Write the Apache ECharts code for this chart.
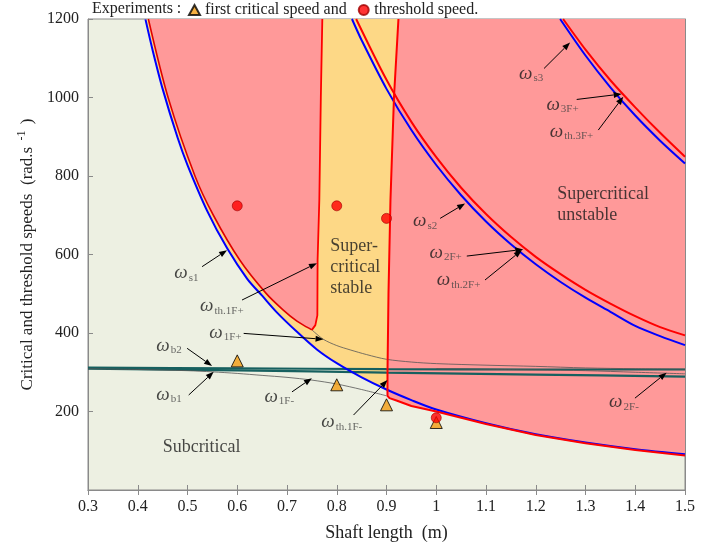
<!DOCTYPE html>
<html><head><meta charset="utf-8">
<script src="https://cdn.jsdelivr.net/npm/echarts@6/dist/echarts.min.js"></script>
<style>html,body{margin:0;padding:0;background:#fff}#c{width:724px;height:549px}</style>
</head><body><div id="c"></div>
<script>
// ---------- data ----------
// first bending critical speed ws1 (blue)
const ws1L = [0.4155,0.43,0.45,0.48,0.5,0.54,0.58,0.62,0.65,0.68,0.72,0.76,0.8,0.85,0.9,0.95,1.0,1.1,1.2,1.3,1.4,1.5];
const ws1  = [1199,1120,1022,898,828,710,615,538,495,452,403,358,323,287,256,229,205,170,142,121,104,91];
// second critical speed ws2 (blue) and w2F+ / wth.2F+ (red)
const ws2L = [0.8306,0.85,0.9,0.95,1.0,1.05,1.1,1.15,1.2,1.25,1.3,1.35,1.4,1.45,1.5];
const ws2  = [1200,1146,1022,917,828,751,684,626,575,530,490,454,418,392,369];
const w2FpL = [0.839,0.9,0.95,1.0,1.05,1.1,1.15,1.2,1.25,1.3,1.35,1.4,1.45,1.5];
const w2Fp  = [1200,1045,938,848,770,703,645,594,550,510,475,443,415,394];
// third critical speed ws3 (blue) and w3F+ (red)
const ws3L = [1.249,1.3,1.35,1.4,1.45,1.5];
const ws3  = [1200,1107,1026,954,890,832];
const w3FpL = [1.255,1.3,1.35,1.4,1.45,1.5];
const w3Fp  = [1200,1122,1044,975,910,849];
// threshold wth.1F+ (red curve, left boundary of the left unstable zone) and its vertical branch
const th1pL = [0.4213,0.461,0.515,0.552,0.605,0.658,0.692,0.72,0.74,0.75];
const th1p  = [1200,1000,800,700,586,501,459,430,415,408];
const vert1L = [0.750,0.757,0.761,0.7615,0.765,0.768,0.771];
const vert1  = [408,420,445,586,740,1000,1200];
// second vertical threshold branch and wth.1F- (red)
const vert2L = [0.924,0.915,0.908,0.904,0.902,0.902];
const vert2  = [1200,1000,740,500,300,240];
const th1mL = [0.906,0.92,0.95,1.0,1.05,1.1,1.2,1.3,1.4,1.5];
const th1m  = [234,228,214,200,184,168,140,119,102,88];
// bearing modes wb1, wb2 (teal)
const wbL = [0.3,0.6,0.9,1.2,1.5];
const wb1 = [309,305,299,294,289];
const wb2 = [312,310,308,307,307];
// whirl branches (thin)
const w1FpL = [0.75,0.773,0.8,0.827,0.86,0.9,0.95,1.0,1.1,1.2,1.3,1.4,1.5];
const w1Fp  = [408,384,368,357,345,333,326,322,318,315,311,309,308];
const w1FmL = [0.3,0.4,0.5,0.55,0.6,0.65,0.7,0.75,0.8,0.85,0.9];
const w1Fm  = [309,307,304,301,297,292,287,280,270,256,240];
const w2FmL = [1.0,1.2,1.3,1.4,1.5];
const w2Fm  = [309,306,304,300,296];
// experiments
const expL = [0.6,0.8,0.9,1.0];
const expCritical  = [329,268,217,172];
const expThreshold = [724,724,692,184];
// annotations: label subscript, text centre, arrow start, arrow end
const annSub  = ['s3','3F+','th.3F+','s2','2F+','th.2F+','s1','th.1F+','1F+','b2','b1','1F-','th.1F-','2F-'];
const annL    = [1.1906,1.2538,1.2719,0.9777,1.0189,1.045,0.4978,0.5691,0.5761,0.4627,0.4627,0.6845,0.81,1.3773];
const annV    = [1060,981,913,685,605,534,552,468,400,367,242,238,172,223];
const arrFromL = [1.2167,1.2823,1.3257,1.0078,1.0614,1.098,0.5293,0.6096,0.6129,0.4992,0.5024,0.71,0.8337,1.3994];
const arrFromV = [1074,995,917,692,596,535,569,484,399,361,242,250,191,234];
const arrToL   = [1.269,1.3727,1.376,1.058,1.175,1.172,0.5795,0.7602,0.7735,0.5494,0.5526,0.75,0.902,1.463];
const arrToV   = [1140,1009,1002,730,613,611,611,578,384,316,301,285,280,299];
// region labels
const regText = ['Super-\ncritical\nstable','Supercritical\nunstable','Subcritical'];
const regL = [0.787,1.243,0.45];
const regV = [568,726,110];
const xTicks = [0.3,1.5,0.1];
const yTicks = [0,1200,200];

// ---------- build ----------
const FONT = 'Liberation Serif';
const pairs = (xs, ys) => xs.map((x, i) => [x, ys[i]]);
const blue1 = pairs(ws1L, ws1);
const polyYellow = blue1.filter(p => p[0] <= 0.9).concat(pairs(vert2L, vert2).reverse());
const polyPinkL = pairs(th1pL, th1p).concat(pairs(vert1L, vert1));
const polyPinkR = pairs(vert2L, vert2).concat(pairs(th1mL, th1m), [[1.5, 1200]]);
const polys = [polyYellow, polyPinkL, polyPinkR];
const polyColors = ['#fdd886', '#ff9999', '#ff9999'];

function line(name, data, color, width, smooth) {
  return {type: 'line', name, data, showSymbol: false, symbol: 'none', smooth: smooth ? 0.3 : false,
    lineStyle: {color, width}, silent: true, z: 3};
}

const chart = echarts.init(document.getElementById('c'), null, {renderer: 'canvas'});
const axisCommon = {
  axisLine: {show: true, lineStyle: {color: '#8a8a8a', width: 1}},
  axisTick: {show: true, inside: true, length: 5, lineStyle: {color: '#8a8a8a'}},
  splitLine: {show: false}
};
chart.setOption({
  animation: false,
  backgroundColor: '#ffffff',
  title: {text: 'Experiments :', left: 92, top: 1, padding: 0, textStyle: {fontFamily: FONT, fontSize: 16, fontWeight: 'normal', color: '#222'}},
  legend: {
    left: 188, top: 2, padding: 0, itemGap: 11, itemWidth: 11, itemHeight: 10,
    data: ['first critical speed and', 'threshold speed.'],
    textStyle: {fontFamily: FONT, fontSize: 16, color: '#222'}
  },
  grid: {left: 88, right: 39, top: 19, bottom: 59, show: true, backgroundColor: '#edf0e2', borderColor: '#8a8a8a', borderWidth: 1},
  xAxis: [
    Object.assign({type: 'value', min: xTicks[0], max: xTicks[1], interval: xTicks[2],
      axisLabel: {fontFamily: FONT, fontSize: 16, color: '#222', margin: 9, formatter: v => String(+v.toFixed(2))},
      name: 'Shaft length  (m)', nameLocation: 'middle', nameGap: 34,
      nameTextStyle: {fontFamily: FONT, fontSize: 18, color: '#222'}}, axisCommon),
    Object.assign({type: 'value', position: 'top', min: xTicks[0], max: xTicks[1], interval: xTicks[2], axisLabel: {show: false}}, axisCommon)
  ],
  yAxis: [
    Object.assign({type: 'value', min: yTicks[0], max: yTicks[1], interval: yTicks[2],
      axisLabel: {fontFamily: FONT, fontSize: 16, color: '#222', margin: 9, formatter: v => v === 0 ? '' : String(v)},
      name: '{a|Critical and threshold speeds  (rad.s }{b|-1}{a| )}', nameLocation: 'middle', nameGap: 45,
      nameTextStyle: {rich: {a: {fontFamily: FONT, fontSize: 17, color: '#222'}, b: {fontFamily: FONT, fontSize: 12, color: '#222', padding: [0, 2, 12, 2]}}}}, axisCommon),
    Object.assign({type: 'value', position: 'right', min: yTicks[0], max: yTicks[1], interval: yTicks[2], axisLabel: {show: false}}, axisCommon)
  ],
  series: [
    {
      type: 'custom', name: 'regions', silent: true, z: 1,
      data: polys.map((p, i) => [0.5, 600, i]),
      renderItem: function (params, api) {
        const i = api.value(2);
        return {type: 'polygon', shape: {points: polys[i].map(p => api.coord(p))},
          style: {fill: polyColors[i], stroke: null}};
      }
    },
    line('wb1', pairs(wbL, wb1), '#17605f', 2.2, true),
    line('wb2', pairs(wbL, wb2), '#17605f', 2.2, true),
    line('w1F+', pairs(w1FpL, w1Fp), '#555', 0.8, true),
    line('w1F-', pairs(w1FmL, w1Fm), '#555', 0.8, true),
    line('w2F-', pairs(w2FmL, w2Fm), '#555', 0.8, true),
    line('ws1', blue1, '#0000ff', 2, true),
    line('ws2', pairs(ws2L, ws2), '#0000ff', 2, true),
    line('ws3', pairs(ws3L, ws3), '#0000ff', 2, true),
    line('w2F+', pairs(w2FpL, w2Fp), '#ff0000', 2, true),
    line('w3F+', pairs(w3FpL, w3Fp), '#ff0000', 2, true),
    line('wth1F+', pairs(th1pL, th1p), '#e00000', 1.6, true),
    line('wth1F+v', pairs(vert1L, vert1), '#ff0000', 1.8, false),
    line('wth1F-', pairs(vert2L, vert2).concat(pairs(th1mL, th1m)), '#ff0000', 2, false),
    {
      type: 'scatter', name: 'first critical speed and', data: pairs(expL, expCritical), symbol: 'triangle', symbolSize: 12,
      itemStyle: {color: '#f39c12', borderColor: '#000', borderWidth: 1}, z: 5, silent: true
    },
    {
      type: 'scatter', name: 'threshold speed.', data: pairs(expL, expThreshold), symbol: 'circle', symbolSize: 10,
      itemStyle: {color: '#ff0000', borderColor: '#a00000', borderWidth: 0.8}, z: 6, silent: true
    },
    {
      type: 'custom', name: 'arrows', silent: true, z: 8,
      data: arrFromL.map((x, i) => [x, arrFromV[i], arrToL[i], arrToV[i]]),
      renderItem: function (params, api) {
        const a = api.coord([api.value(0), api.value(1)]);
        const b = api.coord([api.value(2), api.value(3)]);
        const dx = b[0] - a[0], dy = b[1] - a[1];
        const len = Math.sqrt(dx * dx + dy * dy) || 1;
        const ux = dx / len, uy = dy / len;
        const hl = 8, hw = 3;
        const bx = b[0] - ux * hl, by = b[1] - uy * hl;
        return {type: 'group', children: [
          {type: 'line', shape: {x1: a[0], y1: a[1], x2: bx, y2: by}, style: {stroke: '#000', lineWidth: 1}},
          {type: 'polygon', shape: {points: [[b[0], b[1]], [bx - uy * hw, by + ux * hw], [bx + uy * hw, by - ux * hw]]},
            style: {fill: '#000'}}
        ]};
      }
    },
    {
      type: 'scatter', name: 'annotations', symbolSize: 0, silent: true, z: 7,
      data: annSub.map((s, i) => ({value: [annL[i], annV[i]], sub: s})),
      label: {
        show: true, position: 'inside', align: 'center', verticalAlign: 'middle',
        formatter: p => '{w|ω}{s|' + p.data.sub + '}',
        rich: {
          w: {fontFamily: FONT, fontStyle: 'italic', fontSize: 19, color: '#1a1a1a'},
          s: {fontFamily: FONT, fontSize: 11, color: '#444', padding: [9, 0, 0, 1]}
        }
      }
    },
    {
      type: 'scatter', name: 'regionLabels', symbolSize: 0, silent: true, z: 7,
      data: regText.map((t, i) => ({value: [regL[i], regV[i]], t})),
      label: {show: true, position: 'inside', align: 'left', verticalAlign: 'middle',
        formatter: p => p.data.t, fontFamily: FONT, fontSize: 18, lineHeight: 21, color: '#1a1a1a'}
    }
  ]
});
</script></body></html>
